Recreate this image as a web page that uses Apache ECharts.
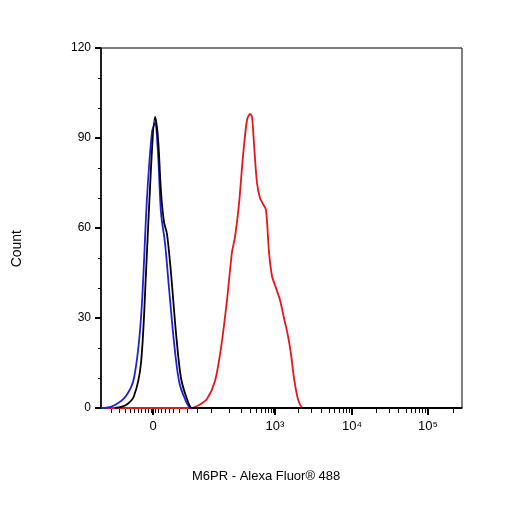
<!DOCTYPE html><html><head><meta charset="utf-8">
<script src="https://cdn.jsdelivr.net/npm/echarts@6/dist/echarts.min.js"></script>
<style>html,body{margin:0;background:#fff}#c{width:506px;height:506px}</style></head><body><div id="c"></div>
<script>
// x in display channel units (0..361), y = count
const blackX=[14,25,33,40,45,50,54,57,60,63,66,70,75,80,86,91,100,361];
const blackY=[0,1,4,15,45,80,97,90,72,62,58,45,25,10,3,0,0,0];
const blueX=[0,4,14,25,33,40,46,51,54,57,60,64,68,73,78,84,90,100,361];
const blueY=[0,0,1,4,10,30,70,92,95,85,65,55,40,22,9,3,0,0,0];
const redX=[0,90,98,106,114,120,126,131,134,138,142,146,149,151,153,156,159,162,165,168,171,175,179,183,187,190,193,197,202,210,361];
const redY=[0,0,1,3,9,20,36,52,57,68,84,96,98,97,88,75,70,68,66,52,44,40,36,30,24,18,10,3,0,0,0];
const majorTicks=[52,174,251,327];
const majorLabels=['0','10³','10⁴','10⁵'];
const minorTicks=[10,18,24,29,33,37,40,44,47,50,54,57,60,64,68,72,78,86,96,110,128,140,149,155,160,164,167,170,172,197,210,220,228,233,238,242,245,248,275,288,297,305,310,314,318,321,324,352];
const yTicks=[0,30,60,90,120];
const z=(a,b)=>a.map((v,i)=>[v,b[i]]);
const c=echarts.init(document.getElementById('c'));
const ff='Liberation Sans';
c.setOption({
 grid:{left:101,top:48,width:361,height:360,show:true,borderColor:'#000',borderWidth:1},
 xAxis:[{type:'value',min:0,max:361,axisLine:{onZero:false,lineStyle:{color:'#000',width:1.5}},splitLine:{show:false},
   axisTick:{customValues:majorTicks,length:7,lineStyle:{color:'#000',width:2}},
   axisLabel:{customValues:majorTicks,formatter:v=>majorLabels[majorTicks.indexOf(v)],color:'#000',fontFamily:ff,fontSize:13,margin:12}},
  {type:'value',min:0,max:361,position:'bottom',axisLine:{show:false},splitLine:{show:false},
   axisTick:{customValues:minorTicks,length:5,lineStyle:{color:'#000'}},axisLabel:{show:false}}],
 yAxis:{type:'value',min:0,max:120,interval:30,minorTick:{show:true,splitNumber:3,length:3,lineStyle:{color:'#000'}},
   axisLine:{show:true,lineStyle:{color:'#000',width:1.5}},splitLine:{show:false},
   axisTick:{length:6,lineStyle:{color:'#000',width:2}},axisLabel:{color:'#000',fontFamily:ff,fontSize:12,margin:10}},
 graphic:[{type:'text',left:10,top:230,rotation:Math.PI/2,style:{text:'Count',font:'14px Liberation Sans',fill:'#000'}},
  {type:'text',left:192,top:470,style:{text:'M6PR - Alexa Fluor® 488',font:'13px Liberation Sans',fill:'#000'}}],
 series:[
  {type:'line',data:z(redX,redY),smooth:0.3,showSymbol:false,lineStyle:{color:'#e8141c',width:1.8}},
  {type:'line',data:z(blueX,blueY),smooth:0.3,showSymbol:false,lineStyle:{color:'#2020d8',width:1.8}},
  {type:'line',data:z(blackX,blackY),smooth:0.3,showSymbol:false,lineStyle:{color:'#000',width:1.8}}
 ],animation:false});
</script></body></html>
